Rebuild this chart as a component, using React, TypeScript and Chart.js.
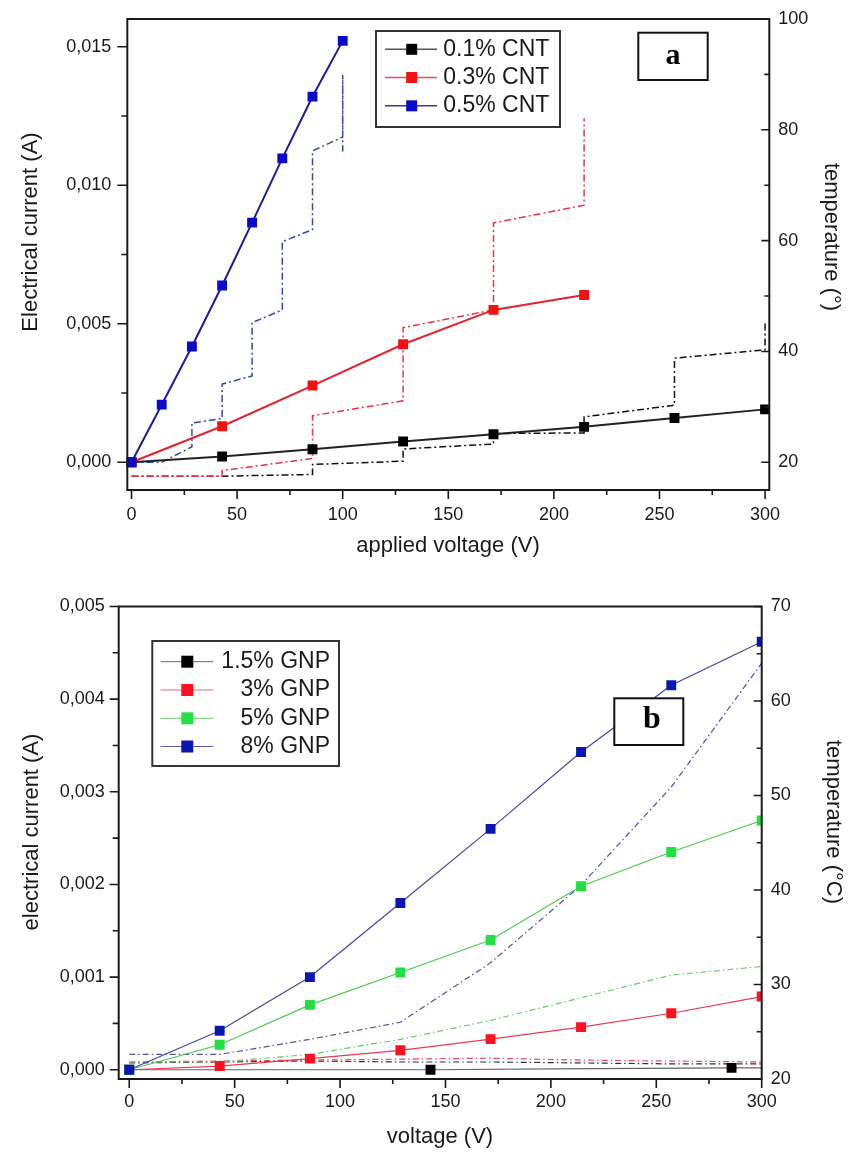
import React, { useEffect, useRef } from 'react';
import { Chart, registerables } from 'chart.js';

Chart.register(...registerables);

// ---------------- Chart (a): CNT ----------------
const cnt01Voltage = [0, 42.9, 85.7, 128.6, 171.4, 214.3, 257.1, 300];
const cnt01Current = [0, 0.00021, 0.00047, 0.00075, 0.00101, 0.00128, 0.0016, 0.00191];
const cnt03Voltage = [0, 42.9, 85.7, 128.6, 171.4, 214.3];
const cnt03Current = [0, 0.0013, 0.00277, 0.00426, 0.0055, 0.00604];
const cnt05Voltage = [0, 14.3, 28.6, 42.9, 57.1, 71.4, 85.7, 100];
const cnt05Current = [0, 0.00208, 0.00418, 0.00638, 0.00865, 0.01097, 0.0132, 0.01521];

const cnt01TempVoltage = [0, 42.9, 85.7, 85.7, 128.6, 128.6, 171.4, 171.4, 214.3, 214.3, 257.1, 257.1, 300, 300];
const cnt01Temp = [17.5, 17.5, 17.8, 19.6, 20.2, 22.4, 23.3, 25.2, 25.3, 28.2, 30.3, 38.8, 40.3, 45.4];
const cnt03TempVoltage = [0, 42.9, 42.9, 85.7, 85.7, 128.6, 128.6, 171.4, 171.4, 214.3, 214.3];
const cnt03Temp = [17.5, 17.5, 18.5, 20.7, 28.4, 31.1, 44.3, 47.5, 63.2, 66.4, 82.1];
const cnt05TempVoltage = [0, 14.3, 28.6, 28.6, 42.9, 42.9, 57.1, 57.1, 71.4, 71.4, 85.7, 85.7, 100, 100, 100];
const cnt05Temp = [20, 20, 22.8, 27.1, 27.9, 34.1, 35.6, 45.2, 47.5, 59.8, 62.0, 76.2, 78.7, 89.9, 76.1];

const cntLabels = ['0.1% CNT', '0.3% CNT', '0.5% CNT'];

// ---------------- Chart (b): GNP ----------------
const gnpVoltage = [0, 42.9, 85.7, 128.6, 171.4, 214.3, 257.1, 300];
const gnp15Voltage = [0, 142.9, 200, 285.7, 300];
const gnp15Current = [0, 0, 0.00001, 0.00002, 0.00002];
const gnp3Current = [0, 0.00004, 0.00012, 0.00021, 0.00033, 0.00046, 0.00061, 0.00079];
const gnp5Current = [0, 0.00027, 0.0007, 0.00105, 0.0014, 0.00198, 0.00235, 0.00269];
const gnp8Current = [0, 0.00042, 0.001, 0.0018, 0.0026, 0.00343, 0.00415, 0.00462];

const gnp15Temp = [21.7, 21.8, 21.9, 21.8, 21.8, 21.7, 21.6, 21.6];
const gnp3Temp = [21.8, 21.9, 22.0, 22.1, 22.2, 22.0, 21.9, 21.8];
const gnp5Temp = [21.8, 21.8, 22.6, 24.2, 26.2, 28.6, 31.0, 31.9];
const gnp8Temp = [22.6, 22.6, 24.2, 26.0, 32.3, 40.5, 50.9, 64.0];

const gnpLabels = ['1.5% GNP', '3% GNP', '5% GNP', '8% GNP'];

// ---------------- helpers ----------------
const SANS = '"Liberation Sans", Arial, sans-serif';
const SERIF = '"Liberation Serif", "Times New Roman", serif';
const INK = '#1a1a1a';

const pts = (xs: number[], ys: number[]) => xs.map((x, i) => ({ x, y: ys[i] }));
const isMultiple = (v: number, step: number) => {
  const r = v / step;
  return Math.abs(r - Math.round(r)) < 1e-6;
};

type TickSpec = { id: string; side: 'left' | 'right' | 'bottom'; major: number; majorLen: number; minorLen: number };
type TitleSpec = { text: string; x: number; y: number; rot: number };
type LegendRow = { label: string; line: string; marker: string; lineWidth: number };
type Decor = {
  ticks: TickSpec[];
  titles: TitleSpec[];
  titleFont: string;
  legend: {
    x: number; y: number; w: number; h: number; rowY: number[]; lineX: [number, number];
    markerX: number; markerSize: number; textX: number; align: CanvasTextAlign; font: string; rows: LegendRow[];
  };
  tag: { text: string; x: number; y: number; w: number; h: number; font: string; tx: number; ty: number };
};

function decorPlugin(d: Decor) {
  return {
    id: 'decor',
    afterDraw(chart: any) {
      const ctx: CanvasRenderingContext2D = chart.ctx;
      const { left, right, top, bottom } = chart.chartArea;
      ctx.save();
      ctx.strokeStyle = INK;
      // tick marks (from the library's scales)
      for (const t of d.ticks) {
        const s = chart.scales[t.id];
        ctx.lineWidth = 1.6;
        ctx.beginPath();
        for (const tk of s.ticks) {
          const p = s.getPixelForValue(tk.value);
          const len = isMultiple(tk.value, t.major) ? t.majorLen : t.minorLen;
          if (t.side === 'bottom') { ctx.moveTo(p, bottom); ctx.lineTo(p, bottom + len); }
          else if (t.side === 'left') { ctx.moveTo(left, p); ctx.lineTo(left - len, p); }
          else { ctx.moveTo(right, p); ctx.lineTo(right - len, p); }
        }
        ctx.stroke();
      }
      // frame
      ctx.lineWidth = 2;
      ctx.strokeRect(left, top, right - left, bottom - top);

      // axis titles
      ctx.fillStyle = INK;
      ctx.font = d.titleFont;
      ctx.textAlign = 'center';
      ctx.textBaseline = 'middle';
      for (const t of d.titles) {
        ctx.save();
        ctx.translate(t.x, t.y);
        ctx.rotate((t.rot * Math.PI) / 180);
        ctx.fillText(t.text, 0, 0);
        ctx.restore();
      }

      // legend
      const L = d.legend;
      ctx.fillStyle = '#fff';
      ctx.fillRect(L.x, L.y, L.w, L.h);
      ctx.strokeStyle = '#333';
      ctx.lineWidth = 2;
      ctx.strokeRect(L.x, L.y, L.w, L.h);
      L.rows.forEach((r, i) => {
        const y = L.rowY[i];
        ctx.strokeStyle = r.line;
        ctx.lineWidth = r.lineWidth;
        ctx.beginPath();
        ctx.moveTo(L.lineX[0], y);
        ctx.lineTo(L.lineX[1], y);
        ctx.stroke();
        ctx.fillStyle = r.marker;
        ctx.fillRect(L.markerX - L.markerSize / 2, y - L.markerSize / 2, L.markerSize, L.markerSize);
        ctx.fillStyle = INK;
        ctx.font = L.font;
        ctx.textAlign = L.align;
        ctx.textBaseline = 'middle';
        ctx.fillText(r.label, L.textX, y);
      });

      // panel tag
      const T = d.tag;
      ctx.fillStyle = '#fff';
      ctx.fillRect(T.x, T.y, T.w, T.h);
      ctx.strokeStyle = '#111';
      ctx.lineWidth = 2;
      ctx.strokeRect(T.x, T.y, T.w, T.h);
      ctx.fillStyle = '#000';
      ctx.font = T.font;
      ctx.textAlign = 'center';
      ctx.textBaseline = 'middle';
      ctx.fillText(T.text, T.tx, T.ty);
      ctx.restore();
    },
  };
}

const zeroPad = (s: any) => {
  s.paddingTop = 0; s.paddingBottom = 0; s.paddingLeft = 0; s.paddingRight = 0;
};

function xAxis(min: number, max: number, height: number, pad: number) {
  return {
    type: 'linear', position: 'bottom', min, max,
    afterFit: (s: any) => { s.height = height; zeroPad(s); },
    grid: { display: false, drawTicks: false, tickLength: 0 },
    border: { display: false },
    ticks: {
      stepSize: 25, includeBounds: false, autoSkip: false, maxRotation: 0, minRotation: 0,
      padding: pad, color: INK, font: { family: SANS, size: 18 },
      callback: (v: number) => (isMultiple(v, 50) ? String(Math.round(v)) : ''),
    },
  };
}

function yAxis(position: 'left' | 'right', min: number, max: number, step: number, major: number,
  width: number, pad: number, fmt: (v: number) => string) {
  return {
    type: 'linear', position, min, max,
    afterFit: (s: any) => { s.width = width; zeroPad(s); },
    grid: { display: false, drawTicks: false, tickLength: 0, drawOnChartArea: false },
    border: { display: false },
    ticks: {
      stepSize: step, includeBounds: false, autoSkip: false,
      padding: pad, color: INK, font: { family: SANS, size: 18 },
      callback: (v: number) => (isMultiple(v, major) ? fmt(v) : ''),
    },
  };
}

const comma = (v: number) => v.toFixed(3).replace('.', ',');
const intLabel = (v: number) => String(Math.round(v));

function solid(label: string, xs: number[], ys: number[], line: string, marker: string, width: number,
  radius: number | number[], clip: number) {
  return {
    label, data: pts(xs, ys), yAxisID: 'y', showLine: true,
    borderColor: line, borderWidth: width, backgroundColor: marker,
    pointStyle: 'rect', pointRadius: radius, pointBackgroundColor: marker, pointBorderColor: marker, pointBorderWidth: 0,
    tension: 0, clip,
  };
}
function temp(label: string, xs: number[], ys: number[], line: string, width: number, dash: number[]) {
  return {
    label, data: pts(xs, ys), yAxisID: 'y2', showLine: true,
    borderColor: line, borderWidth: width, borderDash: dash, pointRadius: 0, tension: 0,
  };
}

function buildTop(): any {
  const dash = [7, 3, 2, 3];
  return {
    type: 'scatter',
    data: {
      datasets: [
        solid(cntLabels[2], cnt05Voltage, cnt05Current, '#1c1c9a', '#0a0ac8', 2, 7, 8),
        solid(cntLabels[1], cnt03Voltage, cnt03Current, '#e6222e', '#f21010', 2, 7, 8),
        solid(cntLabels[0], cnt01Voltage, cnt01Current, '#222', '#000', 2, 7, 8),
        temp('T ' + cntLabels[2], cnt05TempVoltage, cnt05Temp, '#2f4aa8', 1.5, dash),
        temp('T ' + cntLabels[1], cnt03TempVoltage, cnt03Temp, '#e83444', 1.5, dash),
        temp('T ' + cntLabels[0], cnt01TempVoltage, cnt01Temp, '#111', 1.5, dash),
      ],
    },
    options: {
      animation: false, responsive: false, devicePixelRatio: 1, events: [],
      layout: { autoPadding: false, padding: { top: 19, left: 0, right: 0, bottom: 0 } },
      plugins: { legend: { display: false }, tooltip: { enabled: false } },
      scales: {
        x: xAxis(-2, 302, 90, 14),
        y: yAxis('left', -0.001, 0.016, 0.0025, 0.005, 127.3, 16, comma),
        y2: yAxis('right', 15, 100, 10, 20, 81.7, 9, intLabel),
      },
    },
    plugins: [decorPlugin({
      ticks: [
        { id: 'x', side: 'bottom', major: 50, majorLen: 9, minorLen: 5 },
        { id: 'y', side: 'left', major: 0.005, majorLen: 10, minorLen: 6 },
        { id: 'y2', side: 'right', major: 20, majorLen: 8, minorLen: 5 },
      ],
      titleFont: `22px ${SANS}`,
      titles: [
        { text: 'Electrical current (A)', x: 31, y: 232, rot: -90 },
        { text: 'temperature (°)', x: 831, y: 237, rot: 90 },
        { text: 'applied voltage (V)', x: 448, y: 546, rot: 0 },
      ],
      legend: {
        x: 376, y: 31, w: 184, h: 96, rowY: [49.3, 77.5, 105.8], lineX: [385, 437], markerX: 411.7, markerSize: 11,
        textX: 443.3, align: 'left', font: `23px ${SANS}`,
        rows: [
          { label: cntLabels[0], line: '#555', marker: '#000', lineWidth: 1.5 },
          { label: cntLabels[1], line: '#e0506a', marker: '#f21010', lineWidth: 1.5 },
          { label: cntLabels[2], line: '#3a3a90', marker: '#0a0ac8', lineWidth: 1.5 },
        ],
      },
      tag: { text: 'a', x: 638.3, y: 32.7, w: 69.4, h: 47.3, font: `bold 30px ${SERIF}`, tx: 673, ty: 56 },
    })],
  };
}

function buildBottom(): any {
  const dash = [6, 3, 1.5, 3];
  return {
    type: 'scatter',
    data: {
      datasets: [
        solid(gnpLabels[3], gnpVoltage, gnp8Current, '#4646a2', '#0818b0', 1.2, 7, 0),
        solid(gnpLabels[2], gnpVoltage, gnp5Current, '#4cc84c', '#22e044', 1.2, 7, 0),
        solid(gnpLabels[1], gnpVoltage, gnp3Current, '#e63c52', '#ff1020', 1.2, 7, 0),
        solid(gnpLabels[0], gnp15Voltage, gnp15Current, '#666', '#000', 1.2, [0, 7, 0, 7, 0], 0),
        temp('T ' + gnpLabels[3], gnpVoltage, gnp8Temp, '#5050a8', 1.2, dash),
        temp('T ' + gnpLabels[2], gnpVoltage, gnp5Temp, '#66cc66', 1.2, dash),
        temp('T ' + gnpLabels[1], gnpVoltage, gnp3Temp, '#e04a66', 1.2, dash),
        temp('T ' + gnpLabels[0], gnpVoltage, gnp15Temp, '#333', 1.2, dash),
      ],
    },
    options: {
      animation: false, responsive: false, devicePixelRatio: 1, events: [],
      layout: { autoPadding: false, padding: { top: 26.5, left: 0, right: 0, bottom: 0 } },
      plugins: { legend: { display: false }, tooltip: { enabled: false } },
      scales: {
        x: xAxis(-5, 300, 74, 12),
        y: yAxis('left', -0.0001, 0.005, 0.0005, 0.001, 118.7, 14, comma),
        y2: yAxis('right', 20, 70, 5, 10, 89.3, 9, intLabel),
      },
    },
    plugins: [decorPlugin({
      ticks: [
        { id: 'x', side: 'bottom', major: 50, majorLen: 9, minorLen: 5 },
        { id: 'y', side: 'left', major: 0.001, majorLen: 9, minorLen: 6 },
        { id: 'y2', side: 'right', major: 10, majorLen: 8, minorLen: 5 },
      ],
      titleFont: `22px ${SANS}`,
      titles: [
        { text: 'electrical current (A)', x: 32, y: 252, rot: -90 },
        { text: 'temperature (°C)', x: 833, y: 242, rot: 90 },
        { text: 'voltage (V)', x: 440, y: 557, rot: 0 },
      ],
      legend: {
        x: 152.3, y: 61, w: 186.7, h: 125, rowY: [81.7, 110, 138.3, 166.5], lineX: [160.7, 213.3], markerX: 187.3,
        markerSize: 12, textX: 330, align: 'right', font: `23px ${SANS}`,
        rows: [
          { label: gnpLabels[0], line: '#666', marker: '#000', lineWidth: 1 },
          { label: gnpLabels[1], line: '#e06a80', marker: '#ff1020', lineWidth: 1 },
          { label: gnpLabels[2], line: '#6ad06a', marker: '#22e044', lineWidth: 1 },
          { label: gnpLabels[3], line: '#5a5aa8', marker: '#0818b0', lineWidth: 1 },
        ],
      },
      tag: { text: 'b', x: 614.3, y: 118.3, w: 69, h: 46.7, font: `bold 32px ${SERIF}`, tx: 652, ty: 140 },
    })],
  };
}

export default function App() {
  const topRef = useRef<HTMLCanvasElement>(null);
  const botRef = useRef<HTMLCanvasElement>(null);
  useEffect(() => {
    const a = new Chart(topRef.current as HTMLCanvasElement, buildTop());
    const b = new Chart(botRef.current as HTMLCanvasElement, buildBottom());
    return () => { a.destroy(); b.destroy(); };
  }, []);
  return (
    <div style={{ position: 'absolute', left: 0, top: 0, width: 851, height: 1153, background: '#fff' }}>
      <canvas ref={topRef} width={851} height={580}
        style={{ position: 'absolute', left: 0, top: 0, width: 851, height: 580, display: 'block' }} />
      <canvas ref={botRef} width={851} height={573}
        style={{ position: 'absolute', left: 0, top: 580, width: 851, height: 573, display: 'block' }} />
    </div>
  );
}
